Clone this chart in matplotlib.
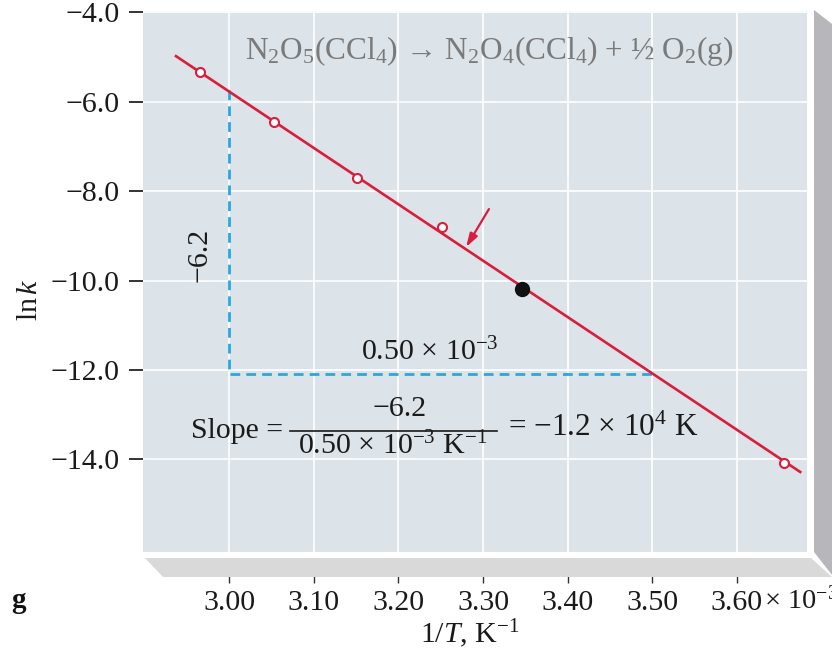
import matplotlib
matplotlib.use("Agg")
import matplotlib.pyplot as plt
from matplotlib.transforms import Affine2D
from matplotlib.patches import Polygon
from matplotlib.lines import Line2D

plt.rcParams['font.family'] = ['Liberation Serif', 'DejaVu Serif']
plt.rcParams['mathtext.fontset'] = 'custom'
plt.rcParams['mathtext.rm'] = 'Liberation Serif'
plt.rcParams['mathtext.it'] = 'Liberation Serif:italic'
plt.rcParams['mathtext.bf'] = 'Liberation Serif:bold'

# ---- data ----
inv_T_open = [2.965, 3.053, 3.151, 3.251, 3.656]     # x 10^-3 K^-1
ln_k_open = [-5.34, -6.45, -7.70, -8.81, -14.08]
inv_T_filled = [3.346]
ln_k_filled = [-10.18]
fit_x = [2.937, 3.675]
fit_y = [-4.98, -14.28]
slope_x = [3.00, 3.00, 3.50]
slope_y = [-5.74, -12.08, -12.08]
x_ticks = [3.00, 3.10, 3.20, 3.30, 3.40, 3.50, 3.60]
x_ticklabels = ['3.00', '3.10', '3.20', '3.30', '3.40', '3.50', '3.60']
y_ticks = [-4.0, -6.0, -8.0, -10.0, -12.0, -14.0]
y_ticklabels = ['\u22124.0', '\u22126.0', '\u22128.0', '\u221210.0', '\u221212.0', '\u221214.0']
arrow_from = (3.307, -8.40)
arrow_to = (3.280, -9.25)

W, H = 832, 655
fig = plt.figure(figsize=(W / 100, H / 100), dpi=100)
pix = Affine2D().scale(1 / W, -1 / H).translate(0, 1) + fig.transFigure

TXT = '#1a1a1a'
FS = 21.5

# 3D-ish box sides
fig.patches.append(Polygon([(814, 10), (836, 27), (836, 580), (814, 552)],
                           closed=True, transform=pix, facecolor='#b6b6bb', edgecolor='none'))
fig.patches.append(Polygon([(145, 558), (811, 558), (832, 577), (163, 577)],
                           closed=True, transform=pix, facecolor='#d9d9da', edgecolor='none'))

ax = fig.add_axes([143 / W, 1 - 552 / H, (807 - 143) / W, (552 - 11) / H])
ax.set_facecolor('#dce3e9')
ax.set_xlim(2.898, 3.683)
ax.set_ylim(-16.07, -3.97)

for s in ax.spines.values():
    s.set_visible(False)
ax.spines['bottom'].set_position(('outward', 6.5))

ax.set_xticks(x_ticks)
ax.set_xticklabels(x_ticklabels)
ax.set_yticks(y_ticks)
ax.set_yticklabels(y_ticklabels)
ax.tick_params(axis='x', direction='out', length=16, width=1.0, pad=5, labelsize=FS,
               color='#333333', labelcolor=TXT)
ax.tick_params(axis='y', direction='out', length=10, width=1.4, pad=7, labelsize=FS,
               color='#333333', labelcolor=TXT)
ax.grid(True, color='white', linewidth=1.2)
ax.set_axisbelow(True)

# slope triangle
ax.plot(slope_x, slope_y, color='#29a8e0', linewidth=2.0, dashes=(3.5, 2.2), zorder=2)
# fit line
ax.plot(fit_x, fit_y, color='#d81e3c', linewidth=1.9, zorder=3, clip_on=False)
ax.plot(inv_T_open, ln_k_open, linestyle='none', marker='o', markersize=6.5,
        markerfacecolor='white', markeredgecolor='#d81e3c', markeredgewidth=1.5, zorder=4, clip_on=False)
ax.plot(inv_T_filled, ln_k_filled, linestyle='none', marker='o', markersize=10,
        markerfacecolor='#111111', markeredgecolor='#111111', zorder=4)
ax.annotate('', xy=arrow_to, xytext=arrow_from,
            arrowprops=dict(arrowstyle='-|>,head_length=0.8,head_width=0.25', color='#d81e3c', lw=1.6,
                            shrinkA=0, shrinkB=0), zorder=5)

# texts
fig.text(489, 51, r'N$_2$O$_5$(CCl$_4$)$\,\rightarrow\,$N$_2$O$_4$(CCl$_4$) + ½ O$_2$(g)', transform=pix,
         ha='center', va='center', fontsize=22.5, color='#7a7a7a')
fig.text(200, 255, '\u22126.2', transform=pix, rotation=90, ha='center', va='center', fontsize=FS, color=TXT)
fig.text(430, 352, r'0.50 $\times$ 10$^{-3}$', transform=pix, ha='center', va='center', fontsize=FS, color=TXT)
fig.text(283, 431, 'Slope =', transform=pix, ha='right', va='center', fontsize=FS, color=TXT)
fig.text(400, 409, '\u22126.2', transform=pix, ha='center', va='center', fontsize=FS, color=TXT)
fig.lines.append(Line2D([290, 497], [431, 431], transform=pix, color=TXT, linewidth=1.2))
fig.text(393, 446, r'0.50 $\times$ 10$^{-3}$ K$^{-1}$', transform=pix, ha='center', va='center', fontsize=FS, color=TXT)
fig.text(508, 428, r'= $-$1.2 $\times$ 10$^{4}$ K', transform=pix, ha='left', va='center', fontsize=22.5, color=TXT)
fig.text(764, 600, r'$\times$ 10$^{-3}$', transform=pix, ha='left', va='center', fontsize=20.5, color=TXT)
fig.text(470, 634, r'1/$T$, K$^{-1}$', transform=pix, ha='center', va='center', fontsize=FS, color=TXT)
fig.text(30, 300, r'ln$\,k$', transform=pix, rotation=90, ha='center', va='center', fontsize=FS, color=TXT)
fig.text(18, 600, 'g', transform=pix, ha='center', va='center', fontsize=21, fontweight='bold', color='#111111')

fig.savefig('out.png', dpi=100)
